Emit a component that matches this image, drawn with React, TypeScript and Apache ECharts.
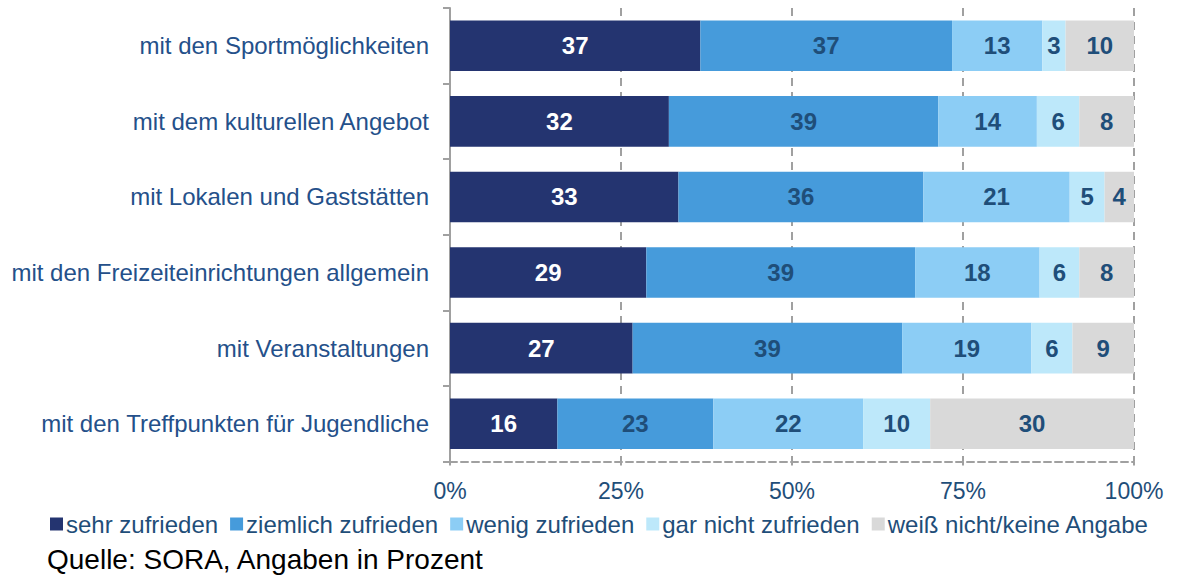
import React, { useEffect, useRef } from "react";
import * as echarts from "echarts";

const categories = [
  "mit den Sportmöglichkeiten",
  "mit dem kulturellen Angebot",
  "mit Lokalen und Gaststätten",
  "mit den Freizeiteinrichtungen allgemein",
  "mit Veranstaltungen",
  "mit den Treffpunkten für Jugendliche",
];

const seriesNames = [
  "sehr zufrieden",
  "ziemlich zufrieden",
  "wenig zufrieden",
  "gar nicht zufrieden",
  "weiß nicht/keine Angabe",
];

const sehrZufrieden = [36.6, 32.0, 33.4, 28.7, 26.7, 15.7];
const ziemlichZufrieden = [36.8, 39.4, 35.8, 39.3, 39.4, 22.8];
const wenigZufrieden = [13.2, 14.4, 21.4, 18.2, 18.9, 21.9];
const garNichtZufrieden = [3.4, 6.2, 5.1, 5.8, 6.0, 9.8];
const weissNicht = [10.0, 8.0, 4.3, 8.0, 9.0, 29.8];

const seriesData = [sehrZufrieden, ziemlichZufrieden, wenigZufrieden, garNichtZufrieden, weissNicht];
const colors = ["#243470", "#469BDB", "#8CCDF5", "#BDE8FA", "#D9D9D9"];
const labelColors = ["#FFFFFF", "#1F4E79", "#1F4E79", "#1F4E79", "#1F4E79"];

const sourceText = "Quelle: SORA, Angaben in Prozent";

const SANS = "'Liberation Sans', Arial, sans-serif";

export default function App() {
  const ref = useRef<HTMLDivElement>(null);
  useEffect(() => {
    if (!ref.current) return;
    const chart = echarts.init(ref.current, undefined, { renderer: "svg" });
    chart.setOption({
      animation: false,
      backgroundColor: "#FFFFFF",
      grid: { left: 450, right: 46, top: 8, bottom: 113.5, containLabel: false },
      legend: {
        left: 45,
        top: 507,
        itemWidth: 13,
        itemHeight: 13,
        itemGap: 12,
        icon: "rect",
        textStyle: { fontFamily: SANS, fontSize: 24, color: "#1F4E79", padding: [0, 0, 0, -2] },
        data: seriesNames,
      },
      xAxis: {
        type: "value",
        min: 0,
        max: 100,
        interval: 25,
        axisLine: { show: true, lineStyle: { color: "#A0A0A0", width: 2, type: [7, 4] } },
        axisTick: { show: true, length: 7, lineStyle: { color: "#A0A0A0", width: 2, type: [4, 3] } },
        splitLine: { show: true, lineStyle: { color: "#A0A0A0", width: 2, type: [8, 6] } },
        axisLabel: {
          formatter: "{value}%",
          fontFamily: SANS,
          fontSize: 23,
          color: "#1F4E79",
          margin: 18,
        },
      },
      yAxis: {
        type: "category",
        inverse: true,
        data: categories,
        axisLine: { show: true, lineStyle: { color: "#A0A0A0", width: 2 } },
        axisTick: { show: true, length: 7, lineStyle: { color: "#A0A0A0", width: 2 } },
        axisLabel: {
          fontFamily: SANS,
          fontSize: 24,
          color: "#24508A",
          margin: 21,
        },
      },
      series: seriesNames.map((name, i) => ({
        name,
        type: "bar",
        stack: "total",
        barWidth: "67%",
        data: seriesData[i],
        itemStyle: { color: colors[i] },
        label: {
          show: true,
          position: "inside",
          formatter: (p: any) => String(Math.round(p.value)),
          fontFamily: SANS,
          fontWeight: "bold",
          fontSize: 24,
          color: labelColors[i],
        },
      })),
      graphic: [
        {
          type: "text",
          left: 47,
          top: 545,
          style: { text: sourceText, fontFamily: SANS, fontSize: 28, lineHeight: 28, fill: "#000000" },
        },
      ],
    });
    return () => chart.dispose();
  }, []);
  return (
    <div
      ref={ref}
      style={{ position: "fixed", left: 0, top: 0, width: 1180, height: 575 }}
    />
  );
}
